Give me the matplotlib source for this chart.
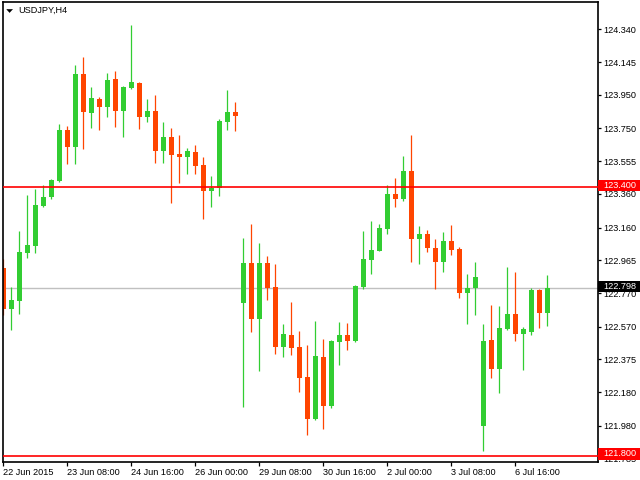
import matplotlib
matplotlib.use("Agg")
import matplotlib.pyplot as plt
from matplotlib.patches import Rectangle, Polygon
import numpy as np

# ---- data (USDJPY, H4) ----
opens = [122.921, 122.675, 122.724, 123.010, 123.052, 123.288, 123.343, 123.437, 123.740, 123.641,
         124.074, 123.843, 123.925, 123.879, 124.044, 123.855, 123.991, 124.020, 123.820, 123.854,
         123.617, 123.701, 123.599, 123.577, 123.611, 123.532, 123.379, 123.393, 123.788, 123.848,
         122.712, 122.947, 122.615, 122.947, 122.808, 122.448, 122.520, 122.448, 122.270, 122.020,
         122.389, 122.097, 122.478, 122.520, 122.484, 122.807, 122.966, 123.022, 123.151, 123.359,
         123.330, 123.496, 123.093, 123.121, 123.040, 122.956, 123.081, 123.034, 122.772, 122.802,
         121.978, 122.490, 122.317, 122.556, 122.645, 122.526, 122.538, 122.790, 122.651]
highs = [122.972, 122.807, 123.139, 123.353, 123.389, 123.413, 123.449, 123.776, 123.764, 124.127,
         124.173, 123.995, 123.935, 124.080, 124.092, 124.002, 124.366, 124.026, 123.925, 123.949,
         123.788, 123.754, 123.713, 123.635, 123.651, 123.582, 123.467, 123.806, 123.979, 123.907,
         123.099, 123.181, 123.069, 122.990, 122.943, 122.585, 122.716, 122.544, 122.460, 122.603,
         122.496, 122.490, 122.597, 122.591, 122.819, 123.141, 123.200, 123.181, 123.413, 123.455,
         123.586, 123.711, 123.169, 123.145, 123.092, 123.135, 123.175, 123.044, 122.883, 122.956,
         122.585, 122.700, 122.694, 122.927, 122.897, 122.569, 122.801, 122.794, 122.879]
lows = [122.639, 122.550, 122.645, 122.980, 123.010, 123.282, 123.331, 123.431, 123.538, 123.538,
        123.629, 123.754, 123.742, 123.820, 123.760, 123.701, 123.986, 123.748, 123.790, 123.546,
        123.546, 123.308, 123.427, 123.480, 123.479, 123.212, 123.284, 123.349, 123.740, 123.735,
        122.091, 122.538, 122.306, 122.728, 122.407, 122.389, 122.401, 122.181, 121.925, 122.014,
        121.960, 122.085, 122.341, 122.431, 122.481, 122.794, 122.883, 123.022, 123.121, 123.282,
        123.318, 122.956, 122.944, 123.016, 122.794, 122.897, 122.998, 122.742, 122.585, 122.639,
        121.831, 122.264, 122.175, 122.550, 122.484, 122.312, 122.522, 122.561, 122.573]
closes = [122.675, 122.728, 123.016, 123.056, 123.294, 123.342, 123.443, 123.740, 123.641, 124.074,
          123.849, 123.931, 123.879, 124.038, 123.855, 123.997, 124.026, 123.820, 123.854, 123.617,
          123.701, 123.592, 123.577, 123.615, 123.528, 123.379, 123.393, 123.794, 123.848, 123.824,
          122.947, 122.615, 122.947, 122.802, 122.448, 122.526, 122.443, 122.264, 122.020, 122.395,
          122.097, 122.484, 122.520, 122.484, 122.813, 122.972, 123.026, 123.157, 123.359, 123.330,
          123.496, 123.091, 123.121, 123.040, 122.956, 123.081, 123.028, 122.772, 122.802, 122.867,
          122.484, 122.317, 122.562, 122.645, 122.526, 122.556, 122.790, 122.651, 122.798]

x_tick_pos = [0, 8, 16, 24, 32, 40, 48, 56, 64]
x_tick_labels = ["22 Jun 2015", "23 Jun 08:00", "24 Jun 16:00", "26 Jun 00:00", "29 Jun 08:00",
                 "30 Jun 16:00", "2 Jul 00:00", "3 Jul 08:00", "6 Jul 16:00"]
y_ticks = [124.340, 124.145, 123.950, 123.750, 123.555, 123.360, 123.160, 122.965,
           122.770, 122.570, 122.375, 122.180, 121.980, 121.785]
y_tick_labels = ["124.340", "124.145", "123.950", "123.750", "123.555", "123.360", "123.160",
                 "122.965", "122.770", "122.570", "122.375", "122.180", "121.980", "121.785"]
level_lines = [123.400, 121.800]
bid_price = 122.798
title = "USDJPY,H4"

UP = "#32CD32"
DOWN = "#FF4500"
FONT = "Liberation Sans"
FS = 6.6

W, H = 640, 480
fig = plt.figure(figsize=(6.4, 4.8), dpi=100)
fig.patch.set_facecolor("white")
L, R, T, B = 2.5, 597.7, 2.3, 462.3
ax = fig.add_axes([L / W, 1 - B / H, (R - L) / W, (B - T) / H])
ax.set_facecolor("white")

ymin, ymax = 121.762, 124.501
ax.set_ylim(ymin, ymax)
ax.set_xlim(-0.1, 74.3)
ppx = (ymax - ymin) / (B - T)  # price per pixel

n = len(opens)
xs = np.arange(n)
o = np.array(opens); c = np.array(closes); h = np.array(highs); lo = np.array(lows)
cols = [UP if cc >= oo else DOWN for oo, cc in zip(o, c)]

# gray bid line behind candles
ax.axhline(bid_price, color="#C0C0C0", lw=1.0, zorder=1)

ax.vlines(xs, lo, h, colors=cols, linewidth=0.9, zorder=2)
bottoms = np.minimum(o, c)
heights = np.maximum(np.abs(c - o), 1.2 * ppx)
ax.bar(xs, heights, bottom=bottoms, width=0.625, color=cols, linewidth=0, zorder=2.2)

for lv in level_lines:
    ax.axhline(lv, color="#FF0000", lw=1.2, zorder=3)

# axes styling
for s in ax.spines.values():
    s.set_color("black")
    s.set_linewidth(1.2)
ax.yaxis.tick_right()
ax.set_yticks(y_ticks)
ax.set_yticklabels(y_tick_labels, fontfamily=FONT, fontsize=FS)
ax.tick_params(axis="y", direction="out", length=2.4, width=0.9, pad=1.9, colors="black")
ax.set_xticks(x_tick_pos)
ax.set_xticklabels(x_tick_labels, fontfamily=FONT, fontsize=FS, ha="left")
ax.tick_params(axis="x", direction="out", length=2.6, width=0.9, pad=1.2, colors="black")
for lab in ax.get_xticklabels():
    lab.set_x(lab.get_position()[0])

# price labels at right
trans = ax.get_yaxis_transform()
axw = R - L
def price_box(price, face):
    rect = Rectangle((1.0, price - 3.6 * ppx), (W - R) / axw + 0.01, 11.2 * ppx,
                     transform=trans, facecolor=face, edgecolor="none",
                     clip_on=False, zorder=10)
    ax.add_patch(rect)
    ax.text(1.0 + 5.6 / axw, price + 2.0 * ppx, f"{price:.3f}", transform=trans,
            color="white", fontfamily=FONT, fontsize=FS, va="center", ha="left",
            clip_on=False, zorder=11)

for lv in level_lines:
    price_box(lv, "#FF0000")
price_box(bid_price, "black")

# title with triangle
tri = Polygon([(6.7 / W, 1 - 9.3 / H), (12.5 / W, 1 - 9.3 / H), (9.6 / W, 1 - 12.5 / H)],
              closed=True, transform=fig.transFigure, facecolor="black", edgecolor="black", lw=0.3)
fig.patches.append(tri)
fig.text(18.3 / W, 1 - 10.7 / H, title, fontfamily=FONT, fontsize=FS, va="center", ha="left",
         color="black")

fig.savefig("out.png", dpi=100)
